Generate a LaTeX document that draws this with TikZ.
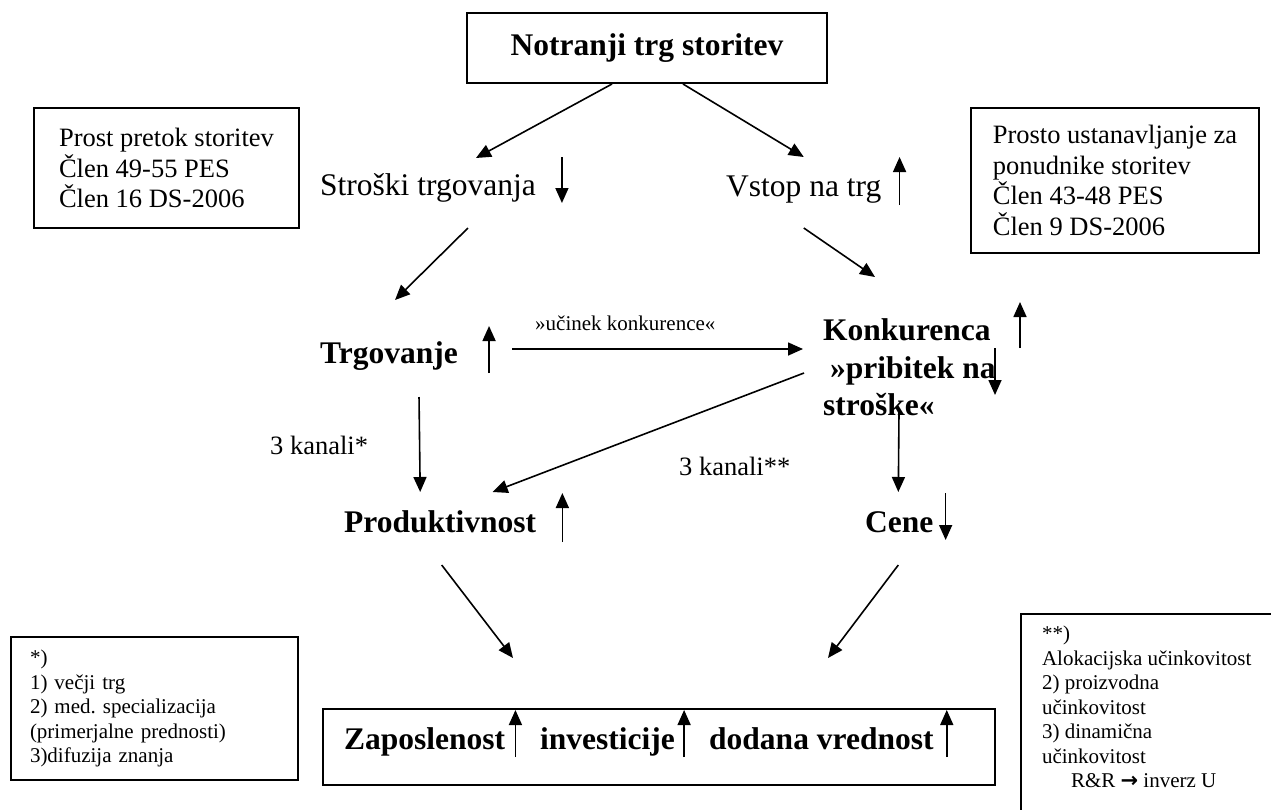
\documentclass[tikz,border=0pt]{standalone}
\usepackage{fontspec}
\setmainfont{Liberation Serif}
\newfontfamily\puscicafont{DejaVu Sans}
\frenchspacing
\usetikzlibrary{positioning}
\usetikzlibrary{calc}
\usetikzlibrary{arrows.meta}

\begin{document}
\begin{tikzpicture}
			[
				x = 1pt, y = -1pt,
				okvir/.style = {draw, rectangle, line width = 2pt},
				glavno/.style = {inner sep = 0pt, font = \fontsize{31.5}{37.5}\selectfont\bfseries},
				besedilo/.style = {inner sep = 0pt, font = \fontsize{31.5}{37.5}\selectfont},
				opomba/.style = {inner sep = 0pt, font = \fontsize{26.5}{30.5}\selectfont},
				drobno/.style = {inner sep = 0pt, font = \fontsize{21}{24.5}\selectfont},
				mypuscica/.style = {-{Triangle[length = 15pt, width = 13pt]}, line width = 1.6pt}
			]
			\useasboundingbox (0,0) rectangle (1271,809);
			%
			\node (notranji) [okvir, glavno, minimum width = 360pt, minimum height = 70pt] at (647,48) {Notranji trg storitev};
			%
			\node (pretok) [okvir, opomba, align = left, minimum width = 265pt, minimum height = 120pt] at (166.5,168) {Prost pretok storitev\\Člen 49-55 PES\\Člen 16 DS-2006};
			\node (ustanavljanje) [okvir, opomba, align = left, minimum width = 288pt, minimum height = 145pt] at (1115,180.5) {Prosto ustanavljanje za\\ponudnike storitev\\Člen 43-48 PES\\Člen 9 DS-2006};
			%
			\node (stroski) [besedilo, anchor = base west] at (320,195) {Stroški trgovanja};
			\node (vstop) [besedilo, anchor = base west] at (726,196) {Vstop na trg};
			\draw [mypuscica] ($(notranji.south)+(-35,0)$) -- ($(stroski.base)+(48,-37)$);
			\draw [mypuscica] ($(notranji.south)+(36,0)$) -- ($(vstop.base)+(0,-39)$);
			\draw [mypuscica] ($(stroski.base east)+(26,-38)$) -- ++(0,46);
			\draw [mypuscica] ($(vstop.base east)+(18,9)$) -- ++(0,-48);
			%
			\node (trgovanje) [glavno, anchor = base west] at (320,363) {Trgovanje};
			\node (konkurenca) [glavno, anchor = north west, align = left] at (823,318.5) {Konkurenca\\\hspace*{7pt}»pribitek na\\stroške«};
			\draw [mypuscica] ($(stroski.base)+(40,33)$) -- ($(trgovanje.base)+(6,-63)$);
			\draw [mypuscica] ($(vstop.base)+(0,32)$) -- ($(konkurenca.north west)+(52,-41.5)$);
			\draw [mypuscica] ($(trgovanje.base east)+(31,10)$) -- ++(0,-47);
			\draw [mypuscica] ($(konkurenca.north west)+(197,29.5)$) -- ++(0,-46);
			\draw [mypuscica] ($(konkurenca.north west)+(172,29.5)$) -- ++(0,47);
			%
			\node (ucinek) [drobno, anchor = base west] at (535,330) {»učinek konkurence«};
			\draw [mypuscica] ($(trgovanje.base east)+(54,-14)$) -- ($(konkurenca.north west)+(-20,30.5)$);
			%
			\node (produktivnost) [glavno, anchor = base west] at (344,532) {Produktivnost};
			\node (cene) [glavno, anchor = base west] at (865,532) {Cene};
			\node (kanalia) [opomba, anchor = base west] at (270,454) {3 kanali*};
			\node (kanalib) [opomba, anchor = base west] at (679,475) {3 kanali**};
			\draw [mypuscica] ($(trgovanje.base)+(30,34)$) -- ($(produktivnost.base)+(-20,-40)$);
			\draw [mypuscica] ($(konkurenca.north west)+(-19,54.5)$) -- ($(produktivnost.base)+(52.5,-40)$);
			\draw [mypuscica] ($(konkurenca.north west)+(76,93.5)$) -- ($(cene.base)+(-1,-40)$);
			\draw [mypuscica] ($(produktivnost.base east)+(26,10)$) -- ++(0,-49);
			\draw [mypuscica] ($(cene.base east)+(12,-39)$) -- ++(0,47);
			%
			\node (rezultat) [okvir, minimum width = 672pt, minimum height = 76pt] at (659,747) {};
			\node (zaposlenost) [glavno, anchor = base west] at (344,749) {Zaposlenost};
			\node (investicije) [glavno, anchor = base west] at (540,749) {investicije};
			\node (vrednost) [glavno, anchor = base west] at (709,749) {dodana vrednost};
			\draw [mypuscica] ($(produktivnost.base)+(1.5,33)$) -- ($(rezultat.north)+(-146,-50)$);
			\draw [mypuscica] ($(cene.base)+(-1,33)$) -- ($(rezultat.north)+(169,-50)$);
			\draw [mypuscica] ($(zaposlenost.base east)+(10,8)$) -- ++(0,-47);
			\draw [mypuscica] ($(investicije.base east)+(9,8)$) -- ++(0,-47);
			\draw [mypuscica] ($(vrednost.base east)+(13,8)$) -- ++(0,-47);
			%
			\node (razlagaa) [okvir, drobno, align = left, text width = 249pt, inner xsep = 19pt, minimum height = 143pt] at (154.5,708.5) {*)\\1) večji trg\\2) med. specializacija\\(primerjalne prednosti)\\3)difuzija znanja};
			\node (razlagab) [okvir, drobno, align = left, anchor = north west, inner xsep = 21pt, inner ysep = 12.4pt] at (1020,613) {**)\\Alokacijska učinkovitost\\2) proizvodna\\učinkovitost\\3) dinamična\\učinkovitost\\\hspace*{29pt}R\&R {\puscicafont\bfseries →} inverz U\rule[-40pt]{0pt}{40pt}};
			%
		\end{tikzpicture}
\end{document}
